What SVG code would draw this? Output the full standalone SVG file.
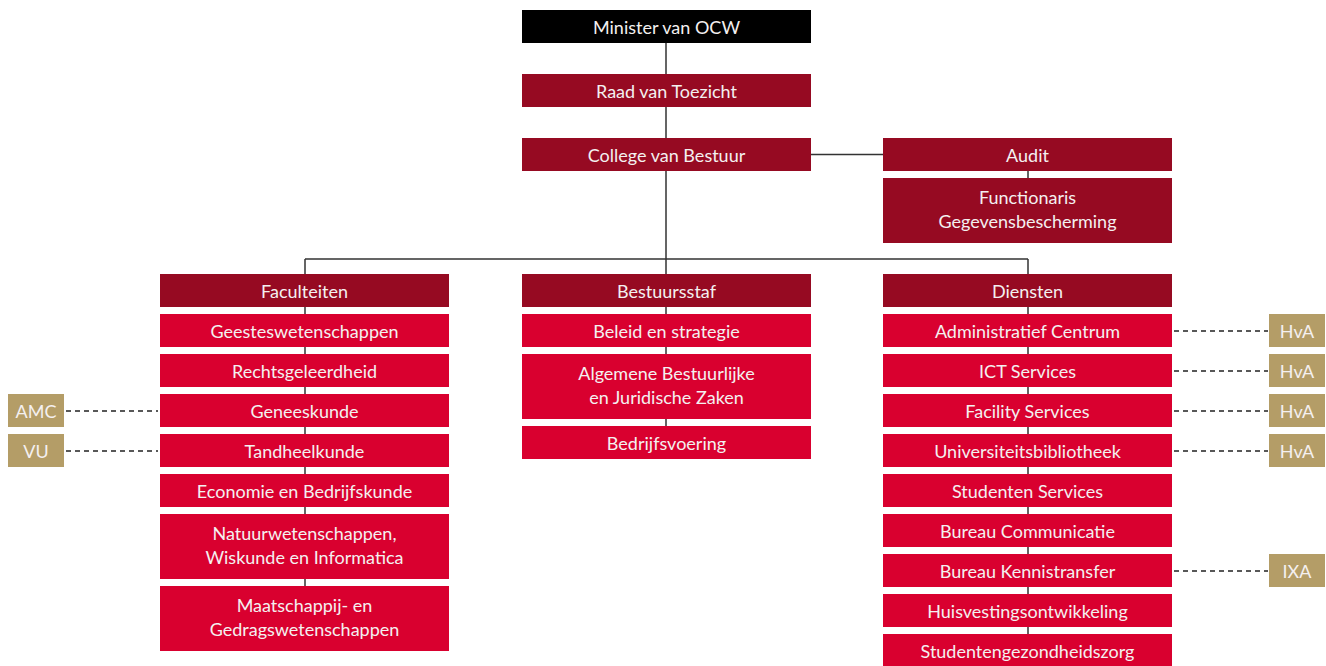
<svg xmlns="http://www.w3.org/2000/svg" width="1326" height="666" viewBox="0 0 1326 666">
<style>
.k{fill:#000}
.d{fill:#960a22}
.r{fill:#d9002f}
.g{fill:#b49d67}
text{font-family:"Source Sans Pro","Lato","Noto Sans",sans-serif;font-size:18px;fill:#f4f0f0;text-anchor:middle;dominant-baseline:central}
.ln{stroke:#333;stroke-width:1.5;fill:none}
.ds{stroke:#222;stroke-width:1.3;fill:none;stroke-dasharray:5 4}
</style>
<rect width="1326" height="666" fill="#fff"/>
<g id="connectors">
<path class="ln" d="M666 43V426M811 154.5H883M1028 171V178M305 259H1028M305 259V586M1028 259V634"/>
<path class="ds" d="M66 411H158M66 451H158M1174 331H1268M1174 371H1268M1174 411H1268M1174 451H1268M1174 571H1268"/>
</g>
<g id="minister"><rect class="k" x="522" y="10" width="289" height="33"/><text x="666.5" y="27">Minister van OCW</text></g>
<g id="raad"><rect class="d" x="522" y="74" width="289" height="33"/><text x="666.5" y="91">Raad van Toezicht</text></g>
<g id="college"><rect class="d" x="522" y="138" width="289" height="33"/><text x="666.5" y="155">College van Bestuur</text></g>
<g id="audit"><rect class="d" x="883" y="138" width="289" height="33"/><text x="1027.5" y="155">Audit</text></g>
<g id="fg"><rect class="d" x="883" y="178" width="289" height="65"/><text x="1027.5" y="197">Functionaris</text><text x="1027.5" y="221">Gegevensbescherming</text></g>

<g id="faculteiten"><rect class="d" x="160" y="274" width="289" height="33"/><text x="304.5" y="291">Faculteiten</text></g>
<g id="geestes"><rect class="r" x="160" y="314" width="289" height="33"/><text x="304.5" y="331">Geesteswetenschappen</text></g>
<g id="rechts"><rect class="r" x="160" y="354" width="289" height="33"/><text x="304.5" y="371">Rechtsgeleerdheid</text></g>
<g id="genees"><rect class="r" x="160" y="394" width="289" height="33"/><text x="304.5" y="411">Geneeskunde</text></g>
<g id="tand"><rect class="r" x="160" y="434" width="289" height="33"/><text x="304.5" y="451">Tandheelkunde</text></g>
<g id="econ"><rect class="r" x="160" y="474" width="289" height="33"/><text x="304.5" y="491">Economie en Bedrijfskunde</text></g>
<g id="natuur"><rect class="r" x="160" y="514" width="289" height="65"/><text x="304.5" y="533">Natuurwetenschappen,</text><text x="304.5" y="557">Wiskunde en Informatica</text></g>
<g id="maatsch"><rect class="r" x="160" y="586" width="289" height="65"/><text x="304.5" y="605">Maatschappij- en</text><text x="304.5" y="629">Gedragswetenschappen</text></g>
<g id="amc"><rect class="g" x="8" y="394" width="56" height="33"/><text x="36" y="411">AMC</text></g>
<g id="vu"><rect class="g" x="8" y="434" width="56" height="33"/><text x="36" y="451">VU</text></g>

<g id="bestuursstaf"><rect class="d" x="522" y="274" width="289" height="33"/><text x="666.5" y="291">Bestuursstaf</text></g>
<g id="beleid"><rect class="r" x="522" y="314" width="289" height="33"/><text x="666.5" y="331">Beleid en strategie</text></g>
<g id="abjz"><rect class="r" x="522" y="354" width="289" height="65"/><text x="666.5" y="373">Algemene Bestuurlijke</text><text x="666.5" y="397">en Juridische Zaken</text></g>
<g id="bedrijfsv"><rect class="r" x="522" y="426" width="289" height="33"/><text x="666.5" y="443">Bedrijfsvoering</text></g>

<g id="diensten"><rect class="d" x="883" y="274" width="289" height="33"/><text x="1027.5" y="291">Diensten</text></g>
<g id="admin"><rect class="r" x="883" y="314" width="289" height="33"/><text x="1027.5" y="331">Administratief Centrum</text></g>
<g id="ict"><rect class="r" x="883" y="354" width="289" height="33"/><text x="1027.5" y="371">ICT Services</text></g>
<g id="facility"><rect class="r" x="883" y="394" width="289" height="33"/><text x="1027.5" y="411">Facility Services</text></g>
<g id="ub"><rect class="r" x="883" y="434" width="289" height="33"/><text x="1027.5" y="451">Universiteitsbibliotheek</text></g>
<g id="ss"><rect class="r" x="883" y="474" width="289" height="33"/><text x="1027.5" y="491">Studenten Services</text></g>
<g id="bc"><rect class="r" x="883" y="514" width="289" height="33"/><text x="1027.5" y="531">Bureau Communicatie</text></g>
<g id="bk"><rect class="r" x="883" y="554" width="289" height="33"/><text x="1027.5" y="571">Bureau Kennistransfer</text></g>
<g id="hv"><rect class="r" x="883" y="594" width="289" height="33"/><text x="1027.5" y="611">Huisvestingsontwikkeling</text></g>
<g id="sgz"><rect class="r" x="883" y="634" width="289" height="33"/><text x="1027.5" y="651">Studentengezondheidszorg</text></g>
<g id="hva1"><rect class="g" x="1269" y="314" width="56" height="33"/><text x="1297" y="331">HvA</text></g>
<g id="hva2"><rect class="g" x="1269" y="354" width="56" height="33"/><text x="1297" y="371">HvA</text></g>
<g id="hva3"><rect class="g" x="1269" y="394" width="56" height="33"/><text x="1297" y="411">HvA</text></g>
<g id="hva4"><rect class="g" x="1269" y="434" width="56" height="33"/><text x="1297" y="451">HvA</text></g>
<g id="ixa"><rect class="g" x="1269" y="554" width="56" height="33"/><text x="1297" y="571">IXA</text></g>
</svg>
